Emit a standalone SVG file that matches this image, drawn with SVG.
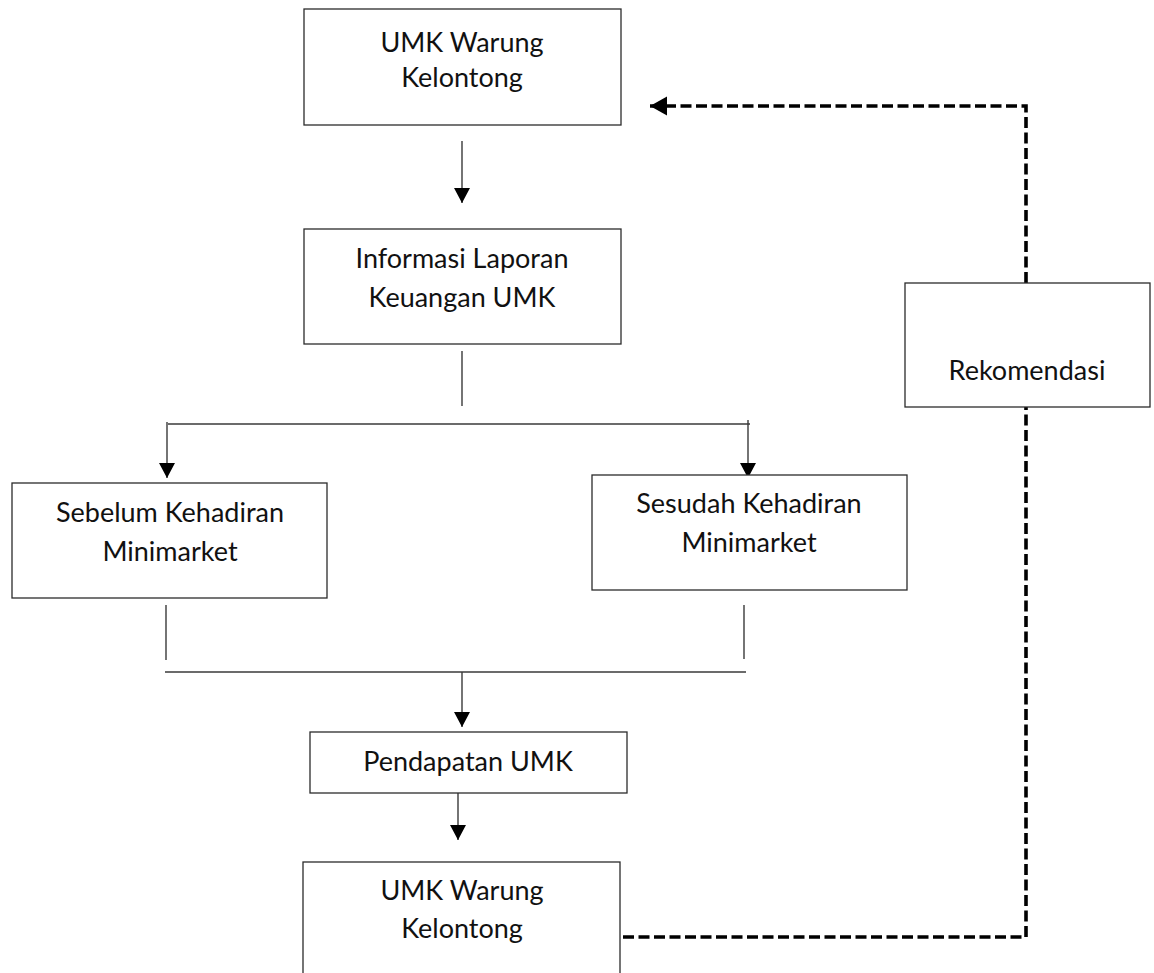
<svg xmlns="http://www.w3.org/2000/svg" width="1154" height="973" viewBox="0 0 1154 973">
<style>
.box{fill:#fff;stroke:#2b2b2b;stroke-width:1.3}
.t{font-family:Lato,"Open Sans","Liberation Sans",sans-serif;font-size:27px;fill:#111;text-anchor:middle}
.ln{fill:none;stroke:#3a3a3a;stroke-width:1.4}
.dash{fill:none;stroke:#000;stroke-width:3.6;stroke-dasharray:11 4.5}
</style>
<defs>
<marker id="ah" markerUnits="userSpaceOnUse" markerWidth="16" markerHeight="16" refX="15" refY="8" orient="auto">
<path d="M0,0 L15,8 L0,16 z" fill="#000"/>
</marker>
<marker id="ahd" markerUnits="userSpaceOnUse" markerWidth="18" markerHeight="20" refX="17" refY="9.5" orient="auto">
<path d="M0,0 L17,9.5 L0,19 z" fill="#000"/>
</marker>
</defs>
<g id="connectors">
<line class="ln" x1="462" y1="141" x2="462" y2="203" marker-end="url(#ah)"/>
<line class="ln" x1="462" y1="351" x2="462" y2="406"/>
<line class="ln" x1="168" y1="424" x2="750" y2="424"/>
<line class="ln" x1="167" y1="422" x2="167" y2="478" marker-end="url(#ah)"/>
<line class="ln" x1="748" y1="420" x2="748" y2="478" marker-end="url(#ah)"/>
<line class="ln" x1="166" y1="605" x2="166" y2="660"/>
<line class="ln" x1="744" y1="605" x2="744" y2="659"/>
<line class="ln" x1="165" y1="672" x2="746" y2="672"/>
<line class="ln" x1="462" y1="672" x2="462" y2="727" marker-end="url(#ah)"/>
<line class="ln" x1="458" y1="793" x2="458" y2="840" marker-end="url(#ah)"/>
<path class="dash" d="M623,937 H1026 V407"/>
<path class="dash" d="M1026,283 V106 H650" marker-end="url(#ahd)"/>
</g>
<g id="node-umk-top">
<rect class="box" x="304" y="9" width="317" height="116"/>
<text class="t" x="462" y="52">UMK Warung</text>
<text class="t" x="462" y="87">Kelontong</text>
</g>
<g id="node-informasi">
<rect class="box" x="304" y="229" width="317" height="115"/>
<text class="t" x="462" y="268">Informasi Laporan</text>
<text class="t" x="462" y="307">Keuangan UMK</text>
</g>
<g id="node-sebelum">
<rect class="box" x="12" y="483" width="315" height="115"/>
<text class="t" x="170" y="522">Sebelum Kehadiran</text>
<text class="t" x="170" y="561">Minimarket</text>
</g>
<g id="node-sesudah">
<rect class="box" x="592" y="475" width="315" height="115"/>
<text class="t" x="749" y="513">Sesudah Kehadiran</text>
<text class="t" x="749" y="552">Minimarket</text>
</g>
<g id="node-pendapatan">
<rect class="box" x="310" y="732" width="317" height="61"/>
<text class="t" x="468" y="771">Pendapatan UMK</text>
</g>
<g id="node-umk-bottom">
<rect class="box" x="303" y="862" width="317" height="120"/>
<text class="t" x="462" y="900">UMK Warung</text>
<text class="t" x="462" y="938">Kelontong</text>
</g>
<g id="node-rekomendasi">
<rect class="box" x="905" y="283" width="245" height="124"/>
<text class="t" x="1027" y="380">Rekomendasi</text>
</g>
</svg>
